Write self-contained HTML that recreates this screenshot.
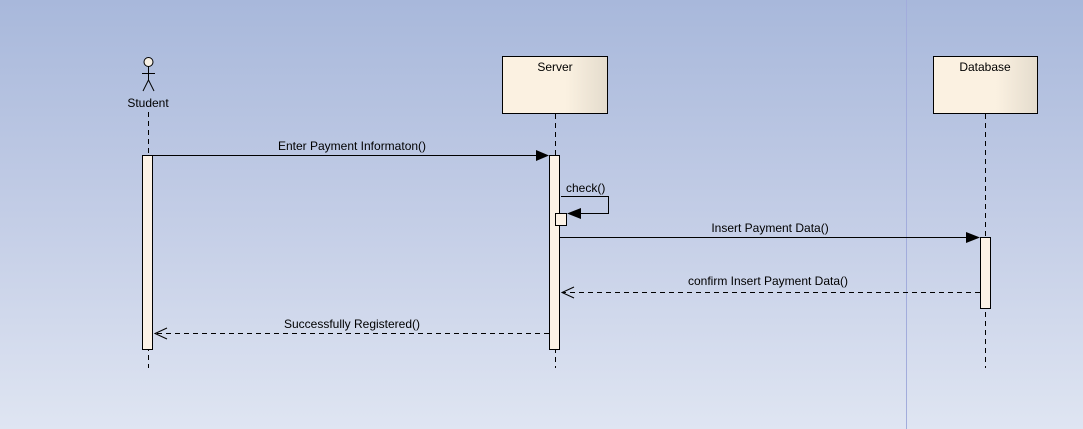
<!DOCTYPE html>
<html><head><style>
html,body{margin:0;padding:0}
body{width:1083px;height:429px;background:linear-gradient(#a8b8db,#c3cde6 50%,#dfe5f2);font-family:"Liberation Sans",sans-serif;overflow:hidden}
</style></head><body>
<svg width="1083" height="429" style="position:absolute;left:0;top:0" font-family="Liberation Sans, sans-serif" font-size="12">
<defs>
<linearGradient id="g" x1="0" x2="1"><stop offset="0.6" stop-color="#fbf1e1"/><stop offset="1" stop-color="#e4dccd"/></linearGradient>
</defs>
<line x1="906.5" y1="0" x2="906.5" y2="429" stroke="#a2acdc" stroke-width="1"/>
<g stroke="#000" stroke-dasharray="5,4" stroke-width="1">
<line x1="148.5" y1="112" x2="148.5" y2="368"/>
<line x1="555.5" y1="114" x2="555.5" y2="368"/>
<line x1="985.5" y1="114" x2="985.5" y2="368"/>
</g>
<g stroke="#000" fill="none">
<circle cx="148.5" cy="62" r="4.5" fill="#f6efe3"/>
<line x1="148.5" y1="66.5" x2="148.5" y2="80"/>
<line x1="142" y1="73.5" x2="155" y2="73.5"/>
<line x1="148.5" y1="80" x2="143" y2="91"/>
<line x1="148.5" y1="80" x2="154" y2="91"/>
</g>
<text x="148" y="107" text-anchor="middle">Student</text>
<rect x="502.5" y="56.5" width="105" height="57" fill="url(#g)" stroke="#000"/>
<text x="555" y="71" text-anchor="middle">Server</text>
<rect x="933.5" y="56.5" width="104" height="57" fill="url(#g)" stroke="#000"/>
<text x="985" y="71" text-anchor="middle">Database</text>
<g fill="#fcf2e6" stroke="#000">
<rect x="142.5" y="155.5" width="10" height="194"/>
<rect x="549.5" y="155.5" width="10" height="194"/>
<rect x="980.5" y="237.5" width="10" height="71"/>
<rect x="555.5" y="213.5" width="11" height="12"/>
</g>
<g stroke="#000" fill="none">
<line x1="153" y1="155.5" x2="537" y2="155.5"/>
<polyline points="561,196.5 608.5,196.5 608.5,213.5 580,213.5"/>
<line x1="560" y1="237.5" x2="968" y2="237.5"/>
<line x1="980" y1="292.5" x2="562" y2="292.5" stroke-dasharray="5,4"/>
<polyline points="574,287 562,292.5 574,298"/>
<line x1="549" y1="333.5" x2="155" y2="333.5" stroke-dasharray="5,4"/>
<polyline points="167,328 155,333.5 167,339"/>
</g>
<g fill="#000">
<polygon points="536,150 549,155.5 536,161"/>
<polygon points="581,208 567,213.5 581,219"/>
<polygon points="966,232 980,237.5 966,243"/>
</g>
<text x="352" y="150" text-anchor="middle">Enter Payment Informaton()</text>
<text x="566" y="192">check()</text>
<text x="770" y="232" text-anchor="middle">Insert Payment Data()</text>
<text x="768" y="285" text-anchor="middle">confirm Insert Payment Data()</text>
<text x="352" y="328" text-anchor="middle">Successfully Registered()</text>
</svg>
</body></html>
